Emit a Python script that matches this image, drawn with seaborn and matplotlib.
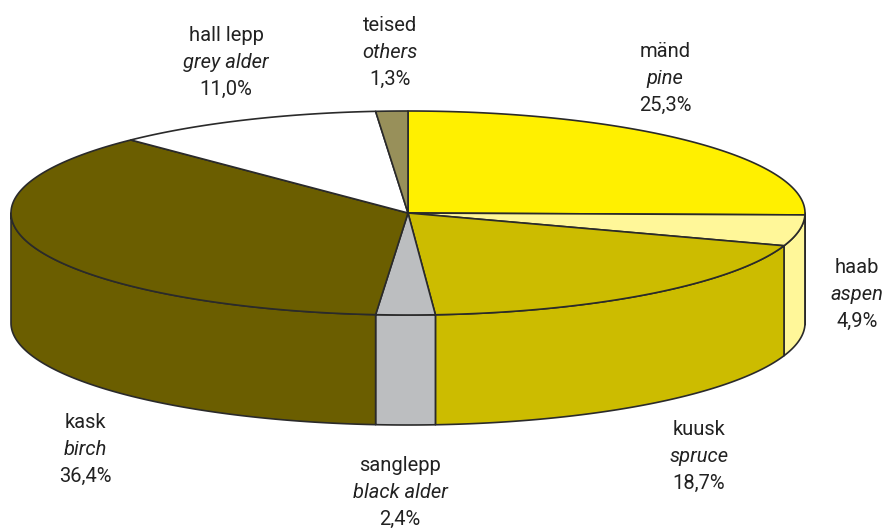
import matplotlib.pyplot as plt
import numpy as np
import seaborn as sns

names = ["mänd", "haab", "kuusk", "sanglepp", "kask", "hall lepp", "teised"]
latin = ["pine", "aspen", "spruce", "black alder", "birch", "grey alder", "others"]
shares = [25.3, 4.9, 18.7, 2.4, 36.4, 11.0, 1.3]
colors = ["#FFF000", "#FFF799", "#CCBC00", "#BCBEC0", "#6B5E00", "#FFFFFF", "#98905A"]
label_x = [665, 857, 699, 400, 85, 226, 390]
label_y = [57, 273, 435, 471, 428, 41, 31]

CX, CY = 408, 213
RX, RY = 397, 102
DEPTH = 110
EDGE = "#2a2a2a"
LINE_GAP = 26.8

sns.set_style("white")
plt.rcParams["font.family"] = ["Roboto", "Liberation Sans", "DejaVu Sans"]

fig, ax = plt.subplots(figsize=(8.87, 5.32), dpi=100)
ax.set_position([0, 0, 1, 1])
ax.set_xlim(0, 887)
ax.set_ylim(532, 0)
ax.axis("off")


def rim(a, b):
    # angles run clockwise from the top of the ellipse
    t = np.radians(np.linspace(a, b, 200))
    return CX + RX * np.sin(t), CY - RY * np.cos(t)


edges = 3.6 * np.concatenate([[0], np.cumsum(shares)])

# side walls, only the front half of the disc is visible
for i, color in enumerate(colors):
    a, b = max(edges[i], 90), min(edges[i + 1], 270)
    if a >= b:
        continue
    x, y = rim(a, b)
    ax.fill(np.r_[x, x[::-1]], np.r_[y, y[::-1] + DEPTH], facecolor=color,
            edgecolor=EDGE, linewidth=1.2, joinstyle="round", zorder=1)

# top of the pie
for i, color in enumerate(colors):
    x, y = rim(edges[i], edges[i + 1])
    ax.fill(np.r_[CX, x], np.r_[CY, y], facecolor=color,
            edgecolor=EDGE, linewidth=1.2, joinstyle="round", zorder=2)

for i, share in enumerate(shares):
    pct = f"{share:.1f}%".replace(".", ",")
    y0 = label_y[i]
    ax.text(label_x[i], y0, names[i], ha="center", va="baseline", fontsize=14.5, color="#222222")
    ax.text(label_x[i], y0 + LINE_GAP, latin[i], ha="center", va="baseline", fontsize=14.5,
            style="italic", color="#222222")
    ax.text(label_x[i], y0 + 2 * LINE_GAP, pct, ha="center", va="baseline", fontsize=14.5, color="#222222")

fig.savefig("out.png", dpi=100)
